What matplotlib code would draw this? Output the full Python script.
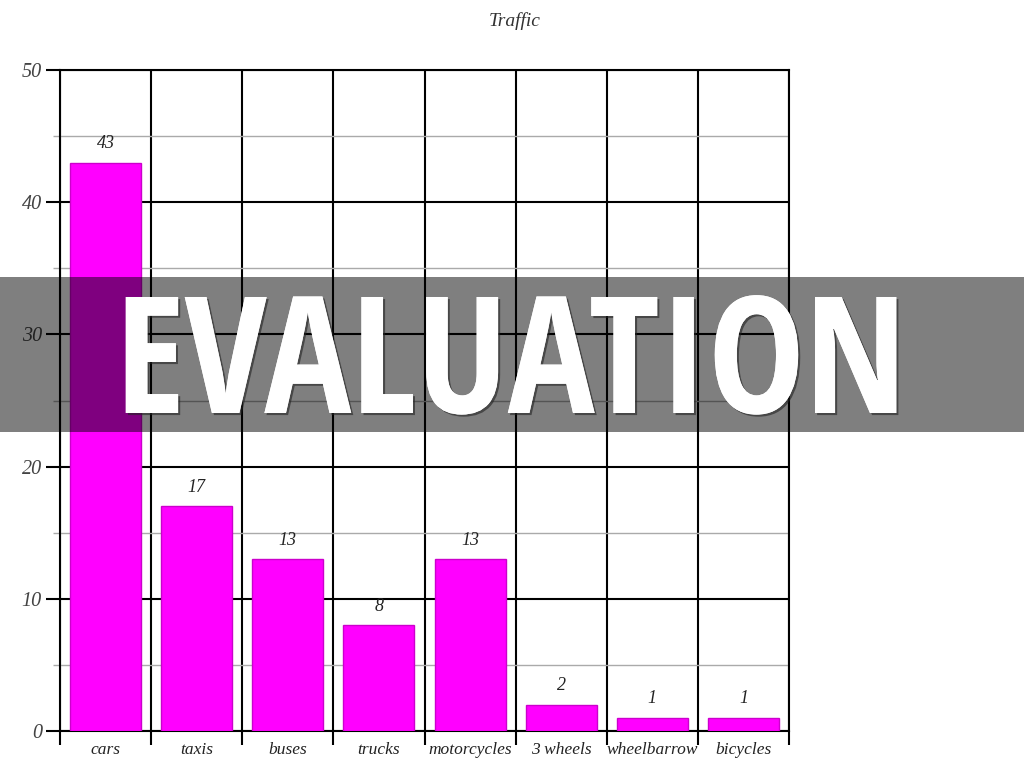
import matplotlib.pyplot as plt
import matplotlib.patheffects as pe
from matplotlib.patches import Rectangle
import numpy as np

# data
categories = ["cars", "taxis", "buses", "trucks", "motorcycles", "3 wheels", "wheelbarrow", "bicycles"]
counts = [43, 17, 13, 8, 13, 2, 1, 1]
title = "Traffic"
overlay_word = "EVALUATION"

serif = ["Liberation Serif", "DejaVu Serif"]

fig = plt.figure(figsize=(10.24, 7.68), dpi=100)
ax = fig.add_axes([60 / 1024, 1 - 731 / 768, 729 / 1024, 661 / 768])

x = np.arange(len(categories)) + 0.5
bars = ax.bar(x, counts, width=0.78, color="#ff00ff", edgecolor="#cc00cc", linewidth=1, zorder=3)
for xi, v in zip(x, counts):
    ax.text(xi, v + 0.8, str(v), ha="center", va="bottom", fontsize=13,
            family=serif, style="italic", color="#222222")

ax.set_xlim(0, len(categories))
ax.set_ylim(0, 50)

# vertical lines between categories, labels in the middle
ax.set_xticks(np.arange(len(categories) + 1))
ax.set_xticklabels([])
ax.set_xticks(x, minor=True)
ax.set_xticklabels(categories, minor=True, family=serif, style="italic", fontsize=12.5, color="#222222")
ax.tick_params(axis="x", which="major", length=10, width=1.5, color="black")
ax.tick_params(axis="x", which="minor", length=0, pad=8)

ax.set_yticks(np.arange(0, 51, 10))
ax.set_yticklabels([str(v) for v in range(0, 51, 10)], family=serif, style="italic", fontsize=14.5, color="#444444")
ax.set_yticks(np.arange(5, 50, 10), minor=True)
ax.tick_params(axis="y", which="major", length=10, width=1.5, color="black", pad=3)
ax.tick_params(axis="y", which="minor", length=5, width=1, color="#aaaaaa")

ax.grid(axis="x", which="major", color="black", linewidth=1.5)
ax.grid(axis="y", which="major", color="black", linewidth=1.5)
ax.grid(axis="y", which="minor", color="#aaaaaa", linewidth=1)
ax.set_axisbelow(True)
for s in ax.spines.values():
    s.set_linewidth(1.5)
    s.set_color("black")

fig.text(515 / 1024, 1 - 21 / 768, title, ha="center", va="center", fontsize=14,
         family=serif, style="italic", color="#333333")

# dark band with the overlay word
fig.patches.append(Rectangle((0, 1 - 432 / 768), 1, 155 / 768, transform=fig.transFigure,
                             facecolor="black", alpha=0.5, edgecolor="none", zorder=10))
fig.text(511 / 1024, 1 - 413 / 768, overlay_word, ha="center", va="baseline", fontsize=117,
         weight="bold", family=["Open Sans Condensed", "DejaVu Sans"], color="white", zorder=11,
         path_effects=[pe.withSimplePatchShadow(offset=(1.5, -1.5), shadow_rgbFace="#222222", alpha=0.6),
                       pe.Normal()])

fig.savefig("out.png", dpi=100)
